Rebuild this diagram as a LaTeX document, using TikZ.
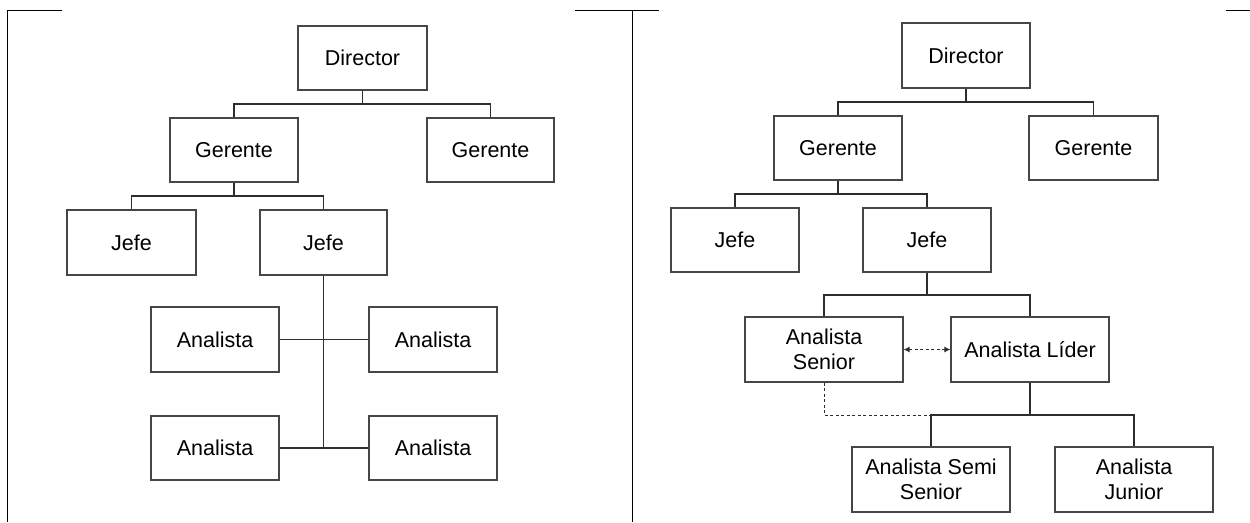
\documentclass[tikz,border=0pt]{standalone}
\usepackage{fontspec}
\setmainfont{Liberation Sans}
\usetikzlibrary{arrows.meta}
\definecolor{ln}{RGB}{70,70,70}
\definecolor{cn}{RGB}{45,45,45}
\begin{document}
\begin{tikzpicture}[x=1pt,y=-1pt,
  box/.style={draw=ln, line width=1.2pt, rectangle, inner sep=0pt, align=center,
    font=\fontsize{21.5}{25}\selectfont, minimum height=64},
  conn/.style={draw=cn, line width=1.2pt},
  dconn/.style={draw=cn, line width=1pt, dash pattern=on 3pt off 2.5pt},
  frame/.style={draw=black, line width=1pt}]
\useasboundingbox (0,0) rectangle (1250,522);
% frame lines
\coordinate (fa) at (7,10);
\coordinate (fb) at (62,10);
\coordinate (fc) at (7,522);
\coordinate (fd) at (575,10);
\coordinate (fe) at (632,10);
\coordinate (ff) at (632,522);
\coordinate (fg) at (659,10);
\coordinate (fh) at (1226,10);
\coordinate (fi) at (1250,10);
\draw[frame] (fb) -- (fa) -- (fc);
\draw[frame] (fd) -- (fg);
\draw[frame] (fe) -- (ff);
\draw[frame] (fh) -- (fi);
% left panel
\node[box, minimum width=129] (d1) at (362.5,58) {Director};
\node[box, minimum width=128] (g1) at (234,150) {Gerente};
\node[box, minimum width=127] (g2) at (490.5,150) {Gerente};
\node[box, minimum width=129, minimum height=65] (j1) at (131.5,242.5) {Jefe};
\node[box, minimum width=127, minimum height=65] (j2) at (323.5,242.5) {Jefe};
\node[box, minimum width=128, minimum height=65] (a1) at (215,339.5) {Analista};
\node[box, minimum width=128, minimum height=65] (a2) at (433,339.5) {Analista};
\node[box, minimum width=128] (a3) at (215,448) {Analista};
\node[box, minimum width=128] (a4) at (433,448) {Analista};
\coordinate (lb) at (323.5,447);
\draw[conn] (d1.south) -- (d1.south |- 0,104);
\draw[conn] (g1.north) |- (g2.north |- 0,104) -- (g2.north);
\draw[conn] (g1.south) -- (g1.south |- 0,196);
\draw[conn] (j1.north) |- (j2.north |- 0,196) -- (j2.north);
\draw[conn] (j2.south) -- (lb);
\draw[conn] (a1.east) -- (a2.west);
\draw[conn] (a3.east) -- (a4.west);
% right panel
\node[box, minimum width=128, minimum height=65] (D) at (966,55.5) {Director};
\node[box, minimum width=128] (G1) at (838,148) {Gerente};
\node[box, minimum width=129] (G2) at (1093.5,148) {Gerente};
\node[box, minimum width=128] (J1) at (735,240) {Jefe};
\node[box, minimum width=128] (J2) at (927,240) {Jefe};
\node[box, minimum width=158, minimum height=65] (AS) at (824,349.5) {Analista\\Senior};
\node[box, minimum width=158, minimum height=65] (AL) at (1030,349.5) {Analista Líder};
\node[box, minimum width=158, minimum height=65] (SS) at (931,479.5) {Analista Semi\\Senior};
\node[box, minimum width=158, minimum height=65] (AJ) at (1134,479.5) {Analista\\Junior};
\draw[conn] (D.south) -- (D.south |- 0,102);
\draw[conn] (G1.north) |- (G2.north |- 0,102) -- (G2.north);
\draw[conn] (G1.south) -- (G1.south |- 0,194);
\draw[conn] (J1.north) |- (J2.north |- 0,194) -- (J2.north);
\draw[conn] (J2.south) -- (J2.south |- 0,295);
\draw[conn] (AS.north) |- (AL.north |- 0,295) -- (AL.north);
\draw[conn] (AL.south) -- (AL.south |- 0,415);
\draw[conn] (SS.north) |- (AJ.north |- 0,415) -- (AJ.north);
\draw[dconn] (AS.south) |- (SS.north |- 0,415);
\draw[dconn, {Latex[length=6pt,width=6pt]}-{Latex[length=6pt,width=6pt]}] (AS.east) -- (AL.west);
\end{tikzpicture}
\end{document}
